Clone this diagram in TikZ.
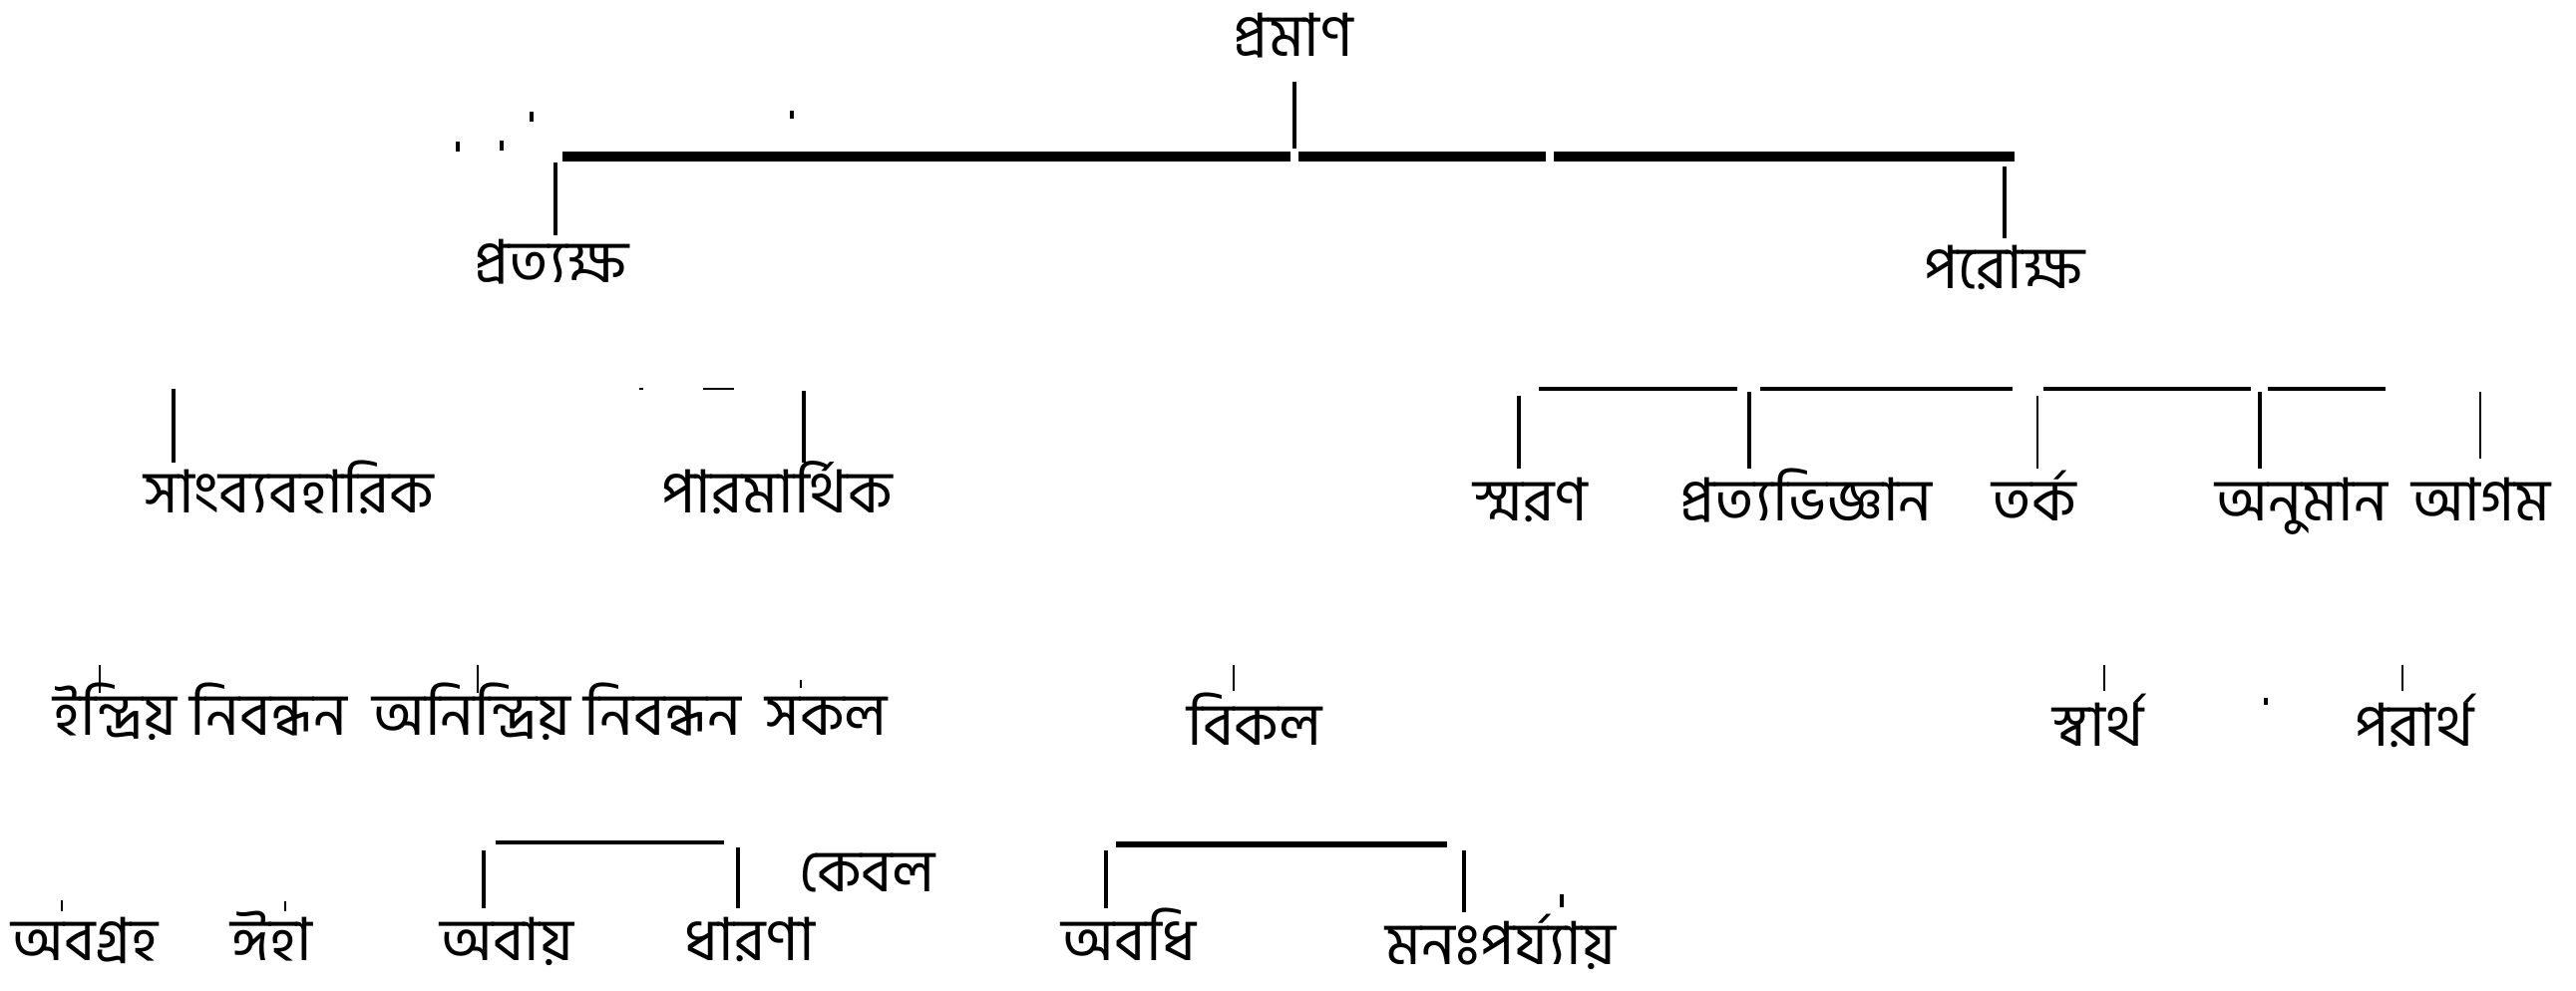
\documentclass[tikz,border=0pt]{standalone}
\usepackage{fontspec}
\newfontfamily\bn[Script=Bengali]{Hind Siliguri}
\tikzset{
  lbl/.style={font=\bn\fontsize{17}{20}\selectfont, inner sep=0pt, text height=0.42cm, text depth=0.06cm},
  bar/.style={line width=2.8pt},
  rule/.style={line width=1.3pt},
  stem/.style={line width=1.1pt},
  faint/.style={line width=0.7pt},
  speck/.style={line width=1.4pt}
}
\begin{document}
\begin{tikzpicture}
	\useasboundingbox (0,0) rectangle (25.83,-9.94);
	% etichette
	\node[lbl] (pramana) at (12.97,-0.39) {প্রমাণ};
	\node[lbl] (pratyaksha) at (5.53,-2.66) {প্রত্যক্ষ};
	\node[lbl] (paroksha) at (20.10,-2.72) {পরোক্ষ};
	\node[lbl] (sam) at (2.90,-4.97) {সাংব্যবহারিক};
	\node[lbl] (param) at (7.79,-4.97) {পারমার্থিক};
	\node[lbl] (smarana) at (15.35,-5.05) {স্মরণ};
	\node[lbl] (pratyabhijna) at (18.11,-5.05) {প্রত্যভিজ্ঞান};
	\node[lbl] (tarka) at (20.40,-5.05) {তর্ক};
	\node[lbl] (anumana) at (23.08,-5.05) {অনুমান};
	\node[lbl] (agama) at (24.88,-5.05) {আগম};
	\node[lbl] (indriya) at (2.01,-7.20) {ইন্দ্রিয় নিবন্ধন};
	\node[lbl] (anindriya) at (5.58,-7.20) {অনিন্দ্রিয় নিবন্ধন};
	\node[lbl] (sakala) at (8.29,-7.20) {সকল};
	\node[lbl] (vikala) at (12.58,-7.30) {বিকল};
	\node[lbl] (svartha) at (21.04,-7.31) {স্বার্থ};
	\node[lbl] (parartha) at (24.21,-7.31) {পরার্থ};
	\node[lbl] (avagraha) at (0.85,-9.46) {অবগ্রহ};
	\node[lbl] (iha) at (2.72,-9.46) {ঈহা};
	\node[lbl] (avaya) at (5.08,-9.46) {অবায়};
	\node[lbl] (dharana) at (7.52,-9.46) {ধারণা};
	\node[lbl] (kevala) at (8.70,-8.77) {কেবল};
	\node[lbl] (avadhi) at (11.32,-9.46) {অবধি};
	\node[lbl] (manah) at (15.05,-9.50) {মনঃপর্য্যায়};
	% primo livello
	\coordinate (topL) at (5.64,-1.57);
	\coordinate (topM) at (12.98,-1.57);
	\coordinate (topR) at (20.20,-1.57);
	\draw[bar] (topL) -- ([xshift=-0.04cm]topM);
	\draw[bar] ([xshift=0.04cm]topM) -- (15.50,-1.57);
	\draw[bar] (15.58,-1.57) -- (topR);
	\draw[stem, shorten <=0.18cm, shorten >=0.08cm] (pramana.south -| topM) -- (topM);
	\coordinate (ptop) at (5.57,-1.63);
	\coordinate (ktop) at (20.10,-1.67);
	\draw[stem, shorten >=0.05cm] (ptop) -- (ptop |- pratyaksha.north);
	\draw[stem, shorten >=0.08cm] (ktop) -- (ktop |- paroksha.north);
	% pratyaksha
	\coordinate (samtop) at (1.74,-3.90);
	\coordinate (paramtop) at (8.06,-3.92);
	\draw[stem, shorten >=0.08cm] (samtop) -- (samtop |- sam.north);
	\draw[stem, shorten >=0.08cm] (paramtop) -- (paramtop |- param.north);
	\draw[faint] (6.41,-3.90) -- (6.45,-3.90);
	\draw[faint] (7.05,-3.90) -- (7.36,-3.90);
	% paroksha
	\draw[rule] (15.43,-3.90) -- (17.42,-3.90);
	\draw[rule] (17.65,-3.90) -- (20.18,-3.90);
	\draw[rule] (20.49,-3.90) -- (22.57,-3.90);
	\draw[rule] (22.74,-3.90) -- (23.92,-3.90);
	\coordinate (smtop) at (15.23,-3.97);
	\coordinate (prtop) at (17.54,-3.93);
	\coordinate (tatop) at (20.43,-3.97);
	\coordinate (antop) at (22.66,-3.93);
	\coordinate (agtop) at (24.87,-3.93);
	\draw[stem, shorten >=0.1cm] (smtop) -- (smtop |- smarana.north);
	\draw[stem, shorten >=0.1cm] (prtop) -- (prtop |- pratyabhijna.north);
	\draw[faint, shorten >=0.1cm] (tatop) -- (tatop |- tarka.north);
	\draw[stem, shorten >=0.1cm] (antop) -- (antop |- anumana.north);
	\draw[faint, shorten >=0.2cm] (agtop) -- (agtop |- agama.north);
	% tratti sopra il terzo livello
	\coordinate (intop) at (1.00,-6.67);
	\coordinate (antop2) at (4.79,-6.67);
	\draw[faint] (intop) -- (intop |- indriya.north);
	\draw[faint] (antop2) -- (antop2 |- anindriya.north);
	\draw[faint] (8.03,-6.82) -- (8.03,-6.90);
	\draw[faint] (12.37,-6.67) -- (12.37,-6.93);
	\draw[faint] (21.10,-6.67) -- (21.10,-6.93);
	\draw[faint] (24.09,-6.67) -- (24.09,-6.93);
	\draw[speck] (22.72,-7.00) -- (22.72,-7.07);
	% quarto livello
	\draw[stem] (4.97,-8.45) -- (7.26,-8.45);
	\coordinate (avtop) at (4.85,-8.53);
	\coordinate (dhtop) at (7.40,-8.50);
	\draw[stem, shorten >=0.1cm] (avtop) -- (avtop |- avaya.north);
	\draw[stem, shorten >=0.1cm] (dhtop) -- (dhtop |- dharana.north);
	\draw[rule, line width=1.8pt] (11.19,-8.47) -- (14.51,-8.47);
	\coordinate (adtop) at (11.09,-8.53);
	\coordinate (mntop) at (14.68,-8.53);
	\draw[stem, shorten >=0.1cm] (adtop) -- (adtop |- avadhi.north);
	\draw[stem, shorten >=0.1cm] (mntop) -- (mntop |- manah.north);
	\draw[faint] (0.62,-9.03) -- (0.62,-9.14);
	\draw[faint] (2.86,-9.04) -- (2.86,-9.14);
	\draw[speck] (15.66,-8.97) -- (15.66,-9.10);
	% puntini
	\draw[speck] (4.59,-1.42) -- (4.59,-1.52);
	\draw[speck] (5.03,-1.41) -- (5.03,-1.51);
	\draw[speck] (5.33,-1.12) -- (5.33,-1.22);
	\draw[speck] (7.94,-1.11) -- (7.94,-1.19);
\end{tikzpicture}
\end{document}
